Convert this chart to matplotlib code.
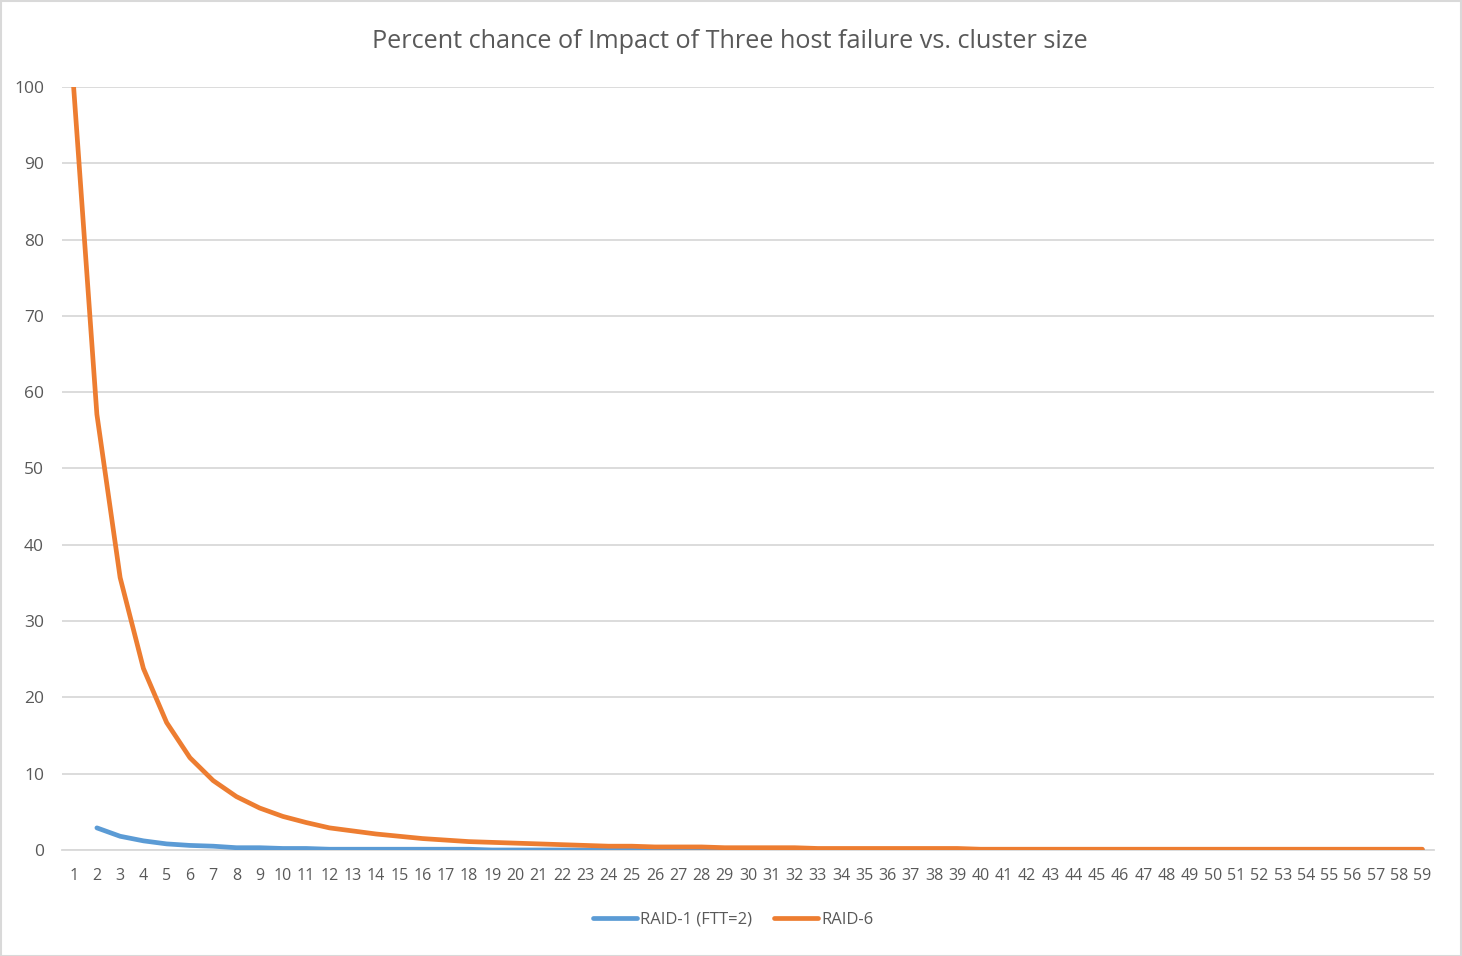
import matplotlib
matplotlib.use("Agg")
import matplotlib.pyplot as plt
from matplotlib.patches import Rectangle

cluster_size = list(range(1, 60))
raid1 = [None, 2.9, 1.8, 1.2, 0.8, 0.6, 0.5, 0.3, 0.3, 0.2, 0.2, 0.1, 0.1, 0.1, 0.1,
         0.1, 0.1, 0.1] + [0.0] * 41
raid6 = [100, 57.1, 35.7, 23.8, 16.7, 12.1, 9.1, 7.0, 5.5, 4.4, 3.6, 2.9, 2.5, 2.1,
         1.8, 1.5, 1.3, 1.1, 1.0, 0.9, 0.8, 0.7, 0.6, 0.5, 0.5, 0.4, 0.4, 0.4, 0.3,
         0.3, 0.3, 0.3, 0.2, 0.2, 0.2, 0.2, 0.2, 0.2, 0.2] + [0.1] * 20
series_names = ["RAID-1 (FTT=2)", "RAID-6"]
title = "Percent chance of Impact of Three host failure vs. cluster size"
yticks = [0, 10, 20, 30, 40, 50, 60, 70, 80, 90, 100]

plt.rcParams['font.family'] = ['Open Sans', 'DejaVu Sans']
W, H = 1462, 956
fig = plt.figure(figsize=(W / 100, H / 100), dpi=100)
ax = fig.add_axes([62 / W, (H - 850) / H, (1434 - 62) / W, (850 - 87) / H])

text_col = "#595959"
grid_col = "#d9d9d9"

x1 = [x for x, v in zip(cluster_size, raid1) if v is not None]
y1 = [v for v in raid1 if v is not None]
ax.plot(x1, y1, color="#5b9bd5", lw=3.4, solid_capstyle="round", label=series_names[0], zorder=3)
ax.plot(cluster_size, raid6, color="#ed7d31", lw=3.4, solid_capstyle="round", label=series_names[1], zorder=4)

ax.set_xlim(0.5, 59.5)
ax.set_ylim(0, 100)
ax.set_yticks(yticks)
ax.set_xticks(cluster_size)
ax.set_xticklabels([str(c) for c in cluster_size])
ax.grid(axis="y", color=grid_col, lw=1.3, zorder=0)
ax.set_axisbelow(True)
for s in ["top", "right", "left"]:
    ax.spines[s].set_visible(False)
ax.spines["bottom"].set_color(grid_col)
ax.spines["bottom"].set_linewidth(1.3)
ax.tick_params(axis="both", length=0, colors=text_col)
ax.tick_params(axis="y", pad=13, labelsize=12.5)
ax.tick_params(axis="x", pad=13, labelsize=11.5)

fig.text(730 / W, 1 - 41 / H, title, ha="center", va="center", fontsize=18.2, color=text_col)

leg = fig.legend(loc="center", bbox_to_anchor=(733 / W, 1 - 920 / H), ncol=2, frameon=False,
                 fontsize=12, handlelength=2.64, handletextpad=0.2, columnspacing=1.3)
for t in leg.get_texts():
    t.set_color(text_col)

fig.patches.append(Rectangle((0.5 / W, 0.5 / H), 1 - 1.5 / W, 1 - 1.5 / H, transform=fig.transFigure,
                             fill=False, edgecolor=grid_col, lw=1.5))

fig.savefig("out.png", dpi=100, facecolor="white")
